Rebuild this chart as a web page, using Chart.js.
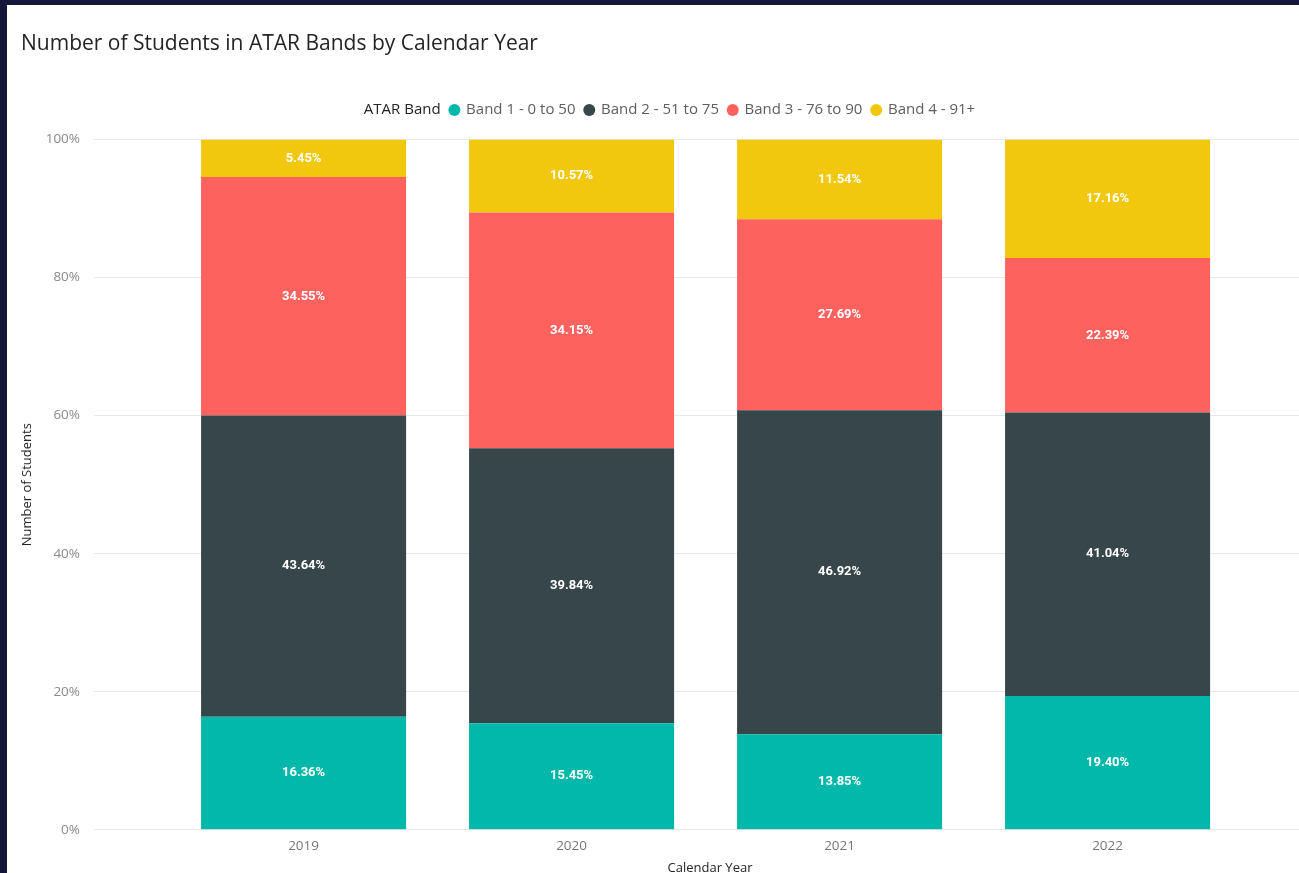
<!DOCTYPE html>
<html>
<head>
<meta charset="utf-8">
<title>Number of Students in ATAR Bands by Calendar Year</title>
<script src="https://cdn.jsdelivr.net/npm/chart.js@4/dist/chart.umd.min.js"></script>
<style>
  html, body { margin: 0; padding: 0; overflow: hidden; background: #16163a; }
  #panel { position: absolute; left: 7px; top: 5px; width: 1400px; height: 900px; background: #ffffff; }
  #chartBox { position: absolute; left: 0; top: 0; width: 1319px; height: 870px; }
</style>
</head>
<body>
<div id="panel">
  <div id="chartBox"><canvas id="atarChart"></canvas></div>
</div>
<script>
// data
const years = [2019, 2020, 2021, 2022];
const bandNames = ['Band 1 - 0 to 50', 'Band 2 - 51 to 75', 'Band 3 - 76 to 90', 'Band 4 - 91+'];
const band1 = [16.36, 15.45, 13.85, 19.40];
const band2 = [43.64, 39.84, 46.92, 41.04];
const band3 = [34.55, 34.15, 27.69, 22.39];
const band4 = [5.45, 10.57, 11.54, 17.16];
const bandColors = ['#01b8aa', '#374649', '#fd625e', '#f2c80f'];
const yTicks = [0, 20, 40, 60, 80, 100];

Chart.defaults.font.family = "'Open Sans', sans-serif";

// white % labels in the middle of every segment
const segmentLabels = {
  id: 'segmentLabels',
  afterDatasetsDraw(chart) {
    const ctx = chart.ctx;
    ctx.save();
    ctx.font = "bold 13px 'Roboto', sans-serif";
    ctx.fillStyle = '#ffffff';
    ctx.textAlign = 'center';
    ctx.textBaseline = 'middle';
    chart.data.datasets.forEach((ds, i) => {
      chart.getDatasetMeta(i).data.forEach((bar, j) => {
        const {x, y, base} = bar.getProps(['x', 'y', 'base'], true);
        ctx.fillText(ds.data[j].y.toFixed(2) + '%', x, (y + base) / 2);
      });
    });
    ctx.restore();
  }
};

// legend sits a bit lower and a bit further left than Chart.js puts it
const legendTweak = {
  id: 'legendTweak',
  beforeInit(chart) {
    const fit = chart.legend.fit;
    chart.legend.fit = function () {
      fit.bind(chart.legend)();
      this.height += 12;
    };
  },
  afterLayout(chart) {
    chart.legend.left -= 12;
    chart.legend.right -= 12;
  }
};

function buildDatasets() {
  const series = [band1, band2, band3, band4];
  return series.map((values, i) => ({
    label: bandNames[i],
    data: values.map((v, j) => ({x: years[j], y: v})),
    backgroundColor: bandColors[i],
    borderWidth: 0,
    pointStyle: 'circle',
    barPercentage: 0.765,
    categoryPercentage: 1
  }));
}

function drawChart() {
  const canvas = document.querySelector('#atarChart');
  new Chart(canvas, {
    type: 'bar',
    data: { datasets: buildDatasets() },
    plugins: [segmentLabels, legendTweak],
    options: {
      responsive: true,
      maintainAspectRatio: false,
      animation: false,
      layout: { padding: { left: 14, right: 0, top: 0, bottom: 0 } },
      plugins: {
        tooltip: { enabled: false },
        title: {
          display: true,
          text: 'Number of Students in ATAR Bands by Calendar Year',
          align: 'start',
          color: '#252423',
          font: { size: 21, weight: 'normal', lineHeight: 1.2 },
          padding: { top: 26.4, bottom: 36.4 }
        },
        legend: {
          display: true,
          position: 'top',
          align: 'center',
          labels: {
            usePointStyle: true,
            boxWidth: 8.5,
            boxHeight: 8.5,
            padding: 9.5,
            color: '#605e5c',
            font: { size: 15 },
            generateLabels(chart) {
              const items = Chart.defaults.plugins.legend.labels.generateLabels(chart);
              items.forEach(it => { it.fontColor = '#605e5c'; });
              const heading = {
                text: 'ATAR Band',
                fillStyle: 'rgba(0,0,0,0)',
                strokeStyle: 'rgba(0,0,0,0)',
                lineWidth: 0,
                pointStyle: 'circle',
                hidden: false,
                fontColor: '#252423'
              };
              return [heading].concat(items);
            }
          }
        }
      },
      scales: {
        x: {
          type: 'linear',
          stacked: true,
          offset: false,
          min: 2018.218,
          max: 2022.815,
          grid: { display: false, drawTicks: false, offset: false },
          border: { display: false },
          afterBuildTicks(scale) {
            scale.ticks = years.map(v => ({ value: v }));
          },
          ticks: {
            padding: 8,
            color: '#777777',
            font: { size: 13.5 },
            callback: v => String(v)
          },
          title: {
            display: true,
            text: 'Calendar Year',
            color: '#252423',
            font: { size: 13, lineHeight: 1 },
            padding: { top: 0, bottom: 0 }
          }
        },
        y: {
          stacked: true,
          min: 0,
          max: 100,
          afterBuildTicks(scale) {
            scale.ticks = yTicks.map(v => ({ value: v }));
          },
          afterFit(scale) {
            scale.width = 73;
          },
          grid: { color: '#e8e8e8', drawTicks: false },
          border: { display: false },
          ticks: {
            padding: 14,
            color: '#8a8a8a',
            font: { size: 13.5 },
            callback: v => v + '%'
          },
          title: {
            display: true,
            text: 'Number of Students',
            color: '#252423',
            font: { size: 13, lineHeight: 1 },
            padding: { top: 0, bottom: 0 }
          }
        }
      }
    }
  });
}

window.addEventListener('load', drawChart);
</script>
</body>
</html>
